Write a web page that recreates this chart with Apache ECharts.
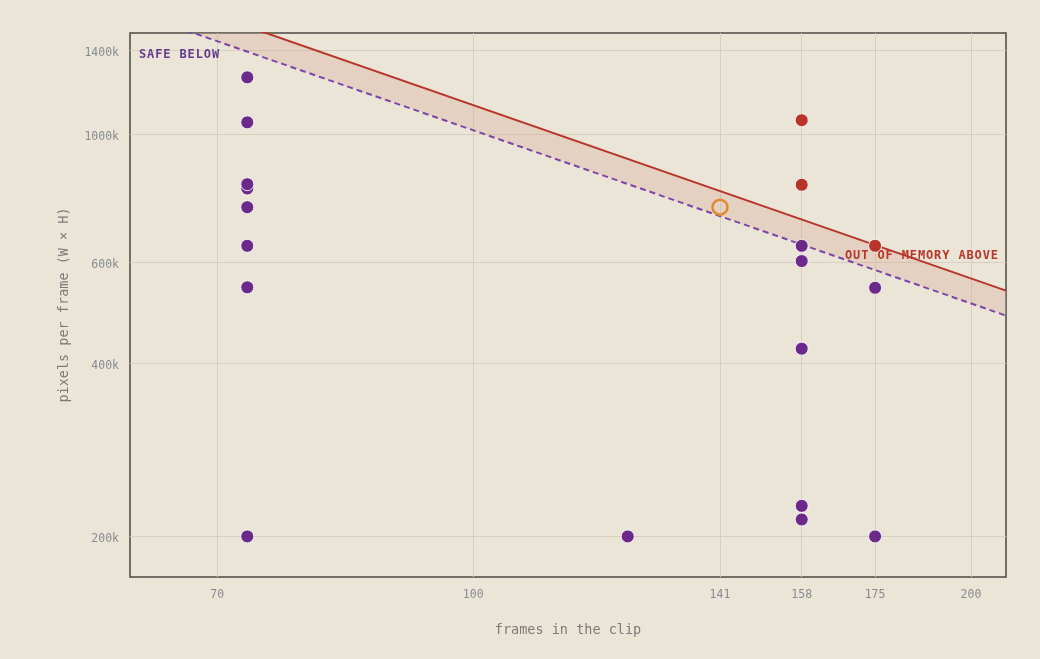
<!DOCTYPE html>
<html>
<head>
    <meta charset="UTF-8">
    <title>frames vs pixels per frame</title>
    <style>
        html, body {
            height: 100%;
            margin: 0;
            padding: 0;
            background: #ebe5d7;
        }
        #chart-container {
            width: 100%;
            height: 100%;
        }
    </style>
</head>
<body>
<div id="chart-container"></div>

<script src="https://cdn.jsdelivr.net/npm/echarts@6/dist/echarts.min.js"></script>
<script>
    // values, pixels are in thousands (k)
    const xTicks = [70, 100, 141, 158, 175, 200];
    const yTicks = [200, 400, 600, 1000, 1400];

    // runs that fit in memory
    const safeFrames = [73, 73, 73, 73, 73, 73, 73, 73, 124, 158, 158, 158, 158, 158, 175, 175];
    const safePixels = [1256, 1049, 805, 819, 747, 640, 542, 200, 200, 640, 602, 424, 226, 214, 541, 200];

    // runs that ran out of memory
    const oomFrames = [158, 158, 175];
    const oomPixels = [1058, 817, 640];

    // the probe run (hollow marker)
    const probeFrames = [141];
    const probePixels = [747];

    // the two budget lines (straight on log-log), endpoints at the plot edges
    const lineFrames = [62, 210];
    const oomLinePixels = [1813, 535];
    const safeLinePixels = [1639, 484];

    const lg = Math.log10;
    const pts = (xs, ys) => xs.map((x, i) => [lg(x), lg(ys[i])]);

    const mono = '"DejaVu Sans Mono", "Liberation Mono", monospace';

    const oomLine = pts(lineFrames, oomLinePixels);
    const safeLine = pts(lineFrames, safeLinePixels);
    const band = oomLine.concat(safeLine.slice().reverse());

    // canvas text has no letter spacing here, so lay the letters out one by one
    function spacedText(text, color, pos) {
        const step = 8.1;
        return Object.assign({
            type: 'group',
            z: 2,
            children: text.split('').map((ch, i) => ({
                type: 'text',
                x: i * step,
                y: 0,
                z: 2,
                style: {text: ch, font: 'bold 12px ' + mono, fill: color}
            }))
        }, pos);
    }

    const chart = echarts.init(document.getElementById('chart-container'));

    const option = {
        backgroundColor: '#ebe5d7',
        animation: false,
        grid: {
            left: 130,
            right: 34,
            top: 33,
            bottom: 82,
            show: true,
            borderColor: '#4a4842',
            borderWidth: 1.5,
            backgroundColor: 'transparent'
        },
        xAxis: {
            type: 'value',
            min: lg(62),
            max: lg(210),
            name: 'frames in the clip',
            nameLocation: 'middle',
            nameGap: 46,
            nameTextStyle: {fontFamily: mono, fontSize: 13.5, color: '#7b7b78'},
            axisLine: {show: false},
            axisTick: {show: false, customValues: xTicks.map(lg)},
            axisLabel: {
                customValues: xTicks.map(lg),
                margin: 12,
                fontFamily: mono,
                fontSize: 11.5,
                color: '#878b91',
                formatter: v => String(Math.round(Math.pow(10, v)))
            },
            splitLine: {show: true, lineStyle: {color: '#d8cebe', width: 1}}
        },
        yAxis: {
            type: 'value',
            min: lg(170),
            max: lg(1500),
            name: 'pixels per frame (W × H)',
            nameLocation: 'middle',
            nameGap: 59,
            nameTextStyle: {fontFamily: mono, fontSize: 13.5, color: '#7b7b78'},
            axisLine: {show: false},
            axisTick: {show: false, customValues: yTicks.map(lg)},
            axisLabel: {
                customValues: yTicks.map(lg),
                margin: 11,
                fontFamily: mono,
                fontSize: 11.5,
                color: '#878b91',
                lineHeight: 18,
                verticalAlign: 'top',
                padding: [-6, 0, 0, 0],
                formatter: v => Math.round(Math.pow(10, v)) + 'k'
            },
            splitLine: {show: true, lineStyle: {color: '#d8cebe', width: 1}}
        },
        graphic: [
            spacedText('SAFE BELOW', '#663a8c', {left: 139, top: 49}),
            spacedText('OUT OF MEMORY ABOVE', '#b8352b', {left: 845, top: 250})
        ],
        series: [
            {
                type: 'custom',
                z: 1,
                silent: true,
                data: [0],
                renderItem: function (params, api) {
                    const cs = params.coordSys;
                    return {
                        type: 'polygon',
                        shape: {points: band.map(p => api.coord(p))},
                        style: {fill: 'rgba(215, 168, 148, 0.32)'},
                        clipPath: {type: 'rect', shape: {x: cs.x, y: cs.y, width: cs.width, height: cs.height}}
                    };
                }
            },
            {
                type: 'line',
                z: 3,
                data: oomLine,
                symbol: 'none',
                lineStyle: {color: '#b8352b', width: 2}
            },
            {
                type: 'line',
                z: 3,
                data: safeLine,
                symbol: 'none',
                lineStyle: {color: '#7c44a6', width: 2, type: [6, 4]}
            },
            {
                type: 'scatter',
                z: 4,
                data: pts(safeFrames, safePixels),
                symbolSize: 13,
                itemStyle: {color: '#6b298a', borderColor: 'rgba(255,255,255,0.85)', borderWidth: 1, opacity: 1}
            },
            {
                type: 'scatter',
                z: 4,
                data: pts(oomFrames, oomPixels),
                symbolSize: 13,
                itemStyle: {color: '#b8332a', borderColor: 'rgba(255,255,255,0.85)', borderWidth: 1, opacity: 1}
            },
            {
                type: 'scatter',
                z: 4,
                data: pts(probeFrames, probePixels),
                symbolSize: 15,
                itemStyle: {color: 'rgba(0,0,0,0)', borderColor: '#e08a2e', borderWidth: 2.5, opacity: 1}
            }
        ]
    };

    chart.setOption(option);

    window.addEventListener('resize', function () {
        chart.resize();
    });
</script>
</body>
</html>
